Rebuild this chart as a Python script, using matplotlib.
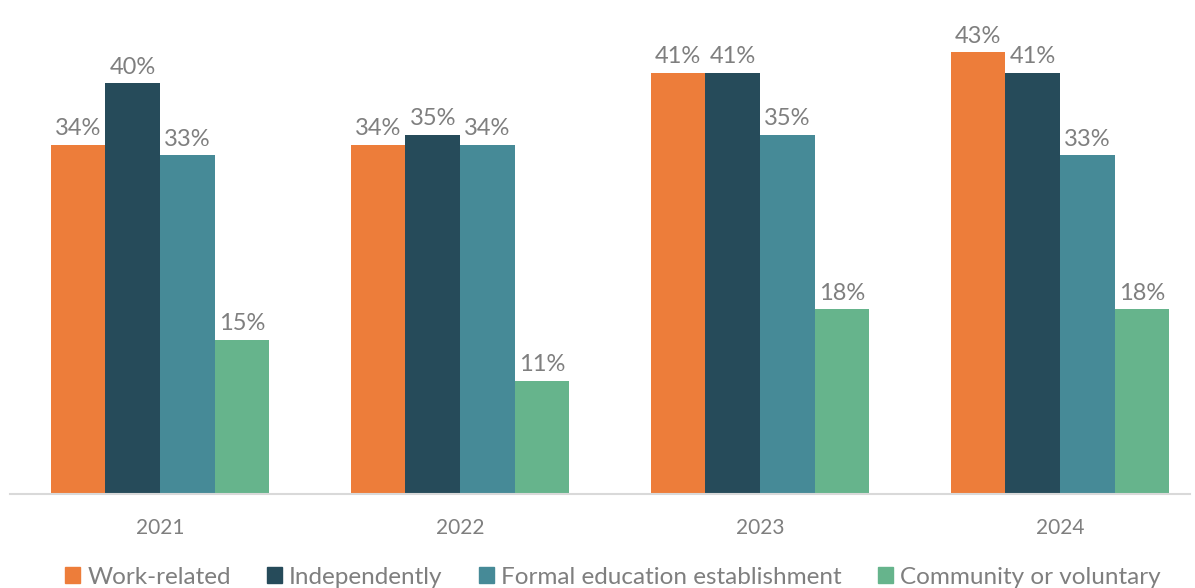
import numpy as np
import matplotlib.pyplot as plt
from matplotlib.patches import Patch

years = ['2021', '2022', '2023', '2024']
series = ['Work-related', 'Independently', 'Formal education establishment',
          'Community or voluntary']
work_related = [34, 34, 41, 43]
independently = [40, 35, 41, 41]
formal_education = [33, 34, 35, 33]
community = [15, 11, 18, 18]

colors = ['#ED7D3A', '#264B5A', '#468A97', '#66B48C']
grey = '#7F7F7F'

plt.rcParams['font.family'] = ['Lato', 'DejaVu Sans']

fig = plt.figure(figsize=(11.95, 5.88), dpi=100)
ax = fig.add_axes([10 / 1195, 94 / 588, 1180 / 1195, 494 / 588])

x = np.arange(len(years))
width = 0.182
values = [work_related, independently, formal_education, community]
for i, (vals, col) in enumerate(zip(values, colors)):
    pos = x + (i - 1.5) * width
    bars = ax.bar(pos, vals, width, color=col, label=series[i])
    for b, v in zip(bars, vals):
        ax.annotate(f'{v}%', (b.get_x() + b.get_width() / 2, v),
                    xytext=(0, 4), textcoords='offset points',
                    ha='center', va='bottom', fontsize=17, color=grey)

ax.set_xlim(-0.5, 3.433)
ax.set_ylim(0, 48.1)
ax.set_xticks(x)
ax.set_xticklabels(years, fontsize=15, color=grey)
ax.tick_params(axis='x', length=0, pad=17)
ax.set_yticks([])
for s in ['top', 'right', 'left']:
    ax.spines[s].set_visible(False)
ax.spines['bottom'].set_color('#D9D9D9')
ax.spines['bottom'].set_linewidth(1.5)

handles = [Patch(color=c) for c in colors]
leg = fig.legend(handles, series, loc='center', bbox_to_anchor=(0.513, 11 / 588),
                 ncol=4, frameon=False, fontsize=17.5, handlelength=0.6,
                 handleheight=0.6, handletextpad=0.3, columnspacing=1.5,
                 borderaxespad=0)
for t in leg.get_texts():
    t.set_color(grey)

fig.savefig('out.png', dpi=100)
